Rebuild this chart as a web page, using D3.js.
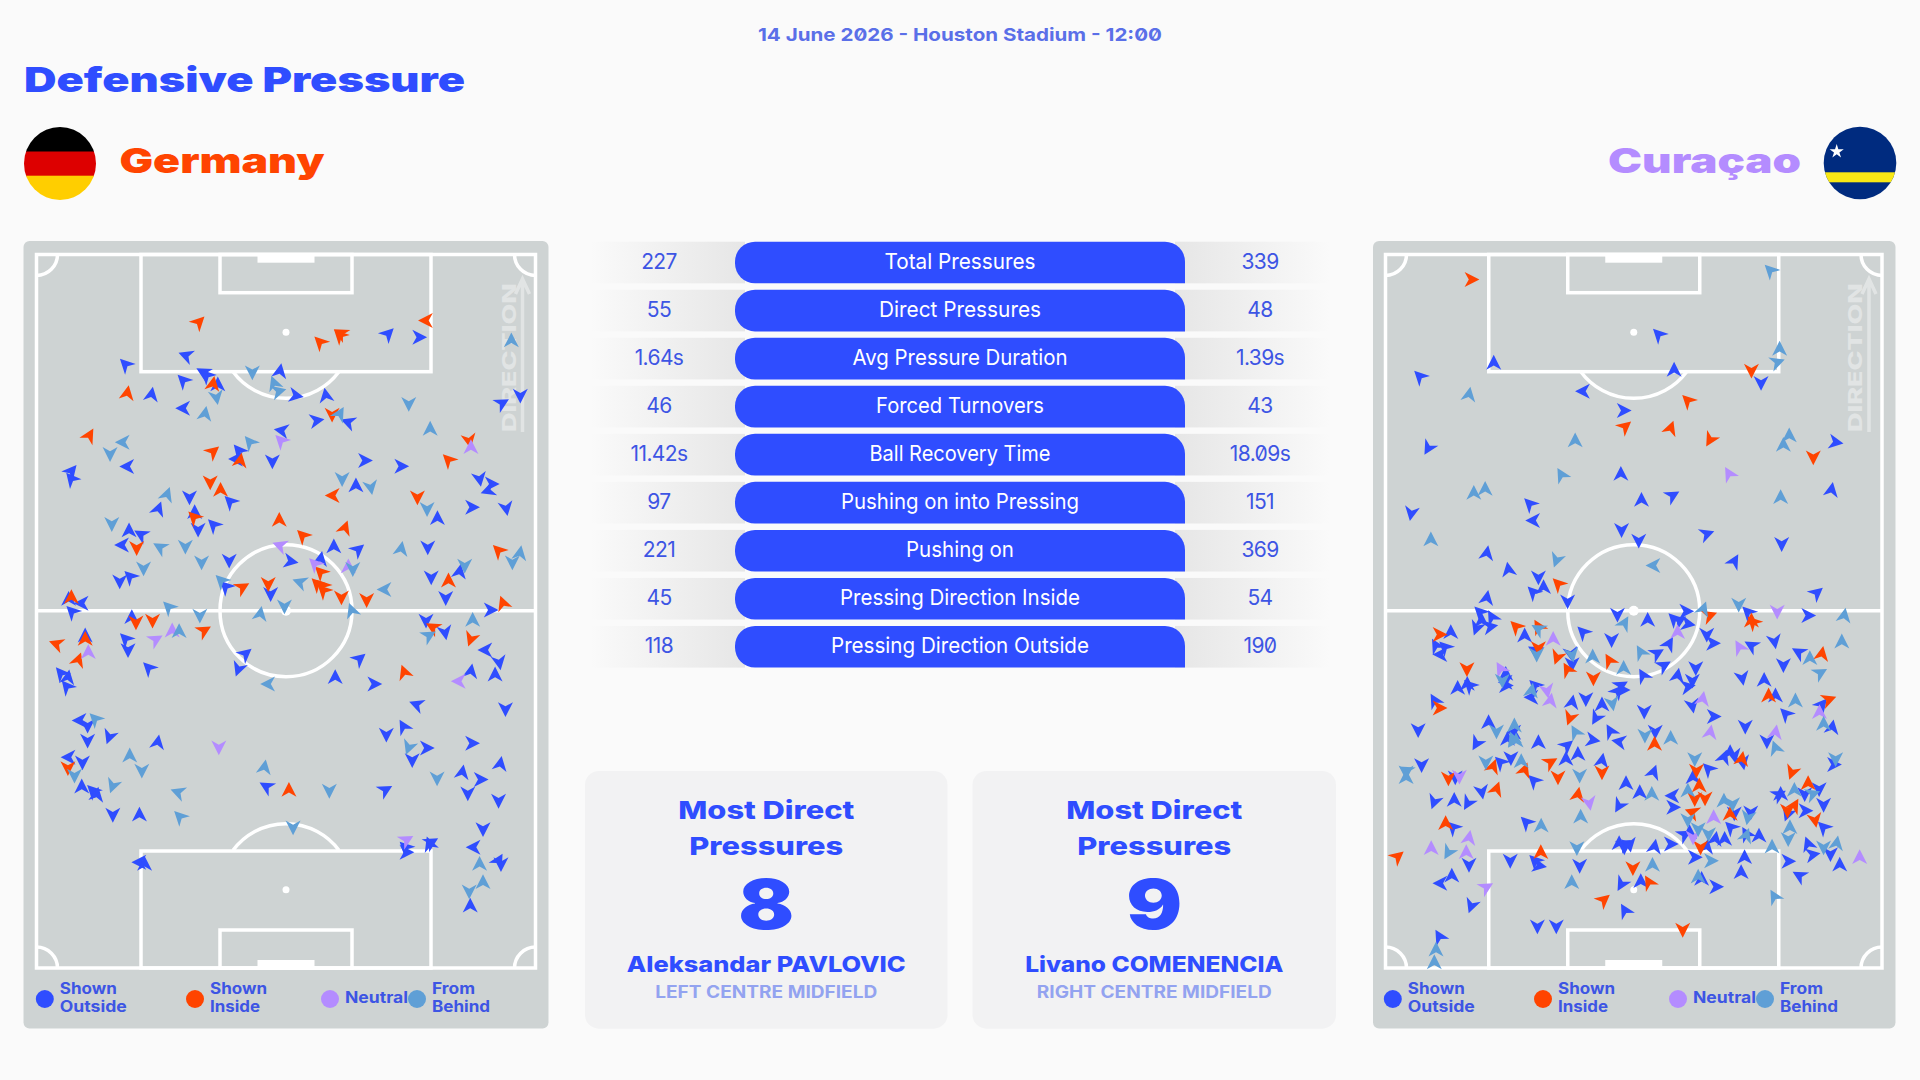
<!DOCTYPE html>
<html>
<head>
<meta charset="utf-8">
<script src="https://cdn.jsdelivr.net/npm/d3@7.9.0/dist/d3.min.js"></script>
<style>
  html, body { margin: 0; padding: 0; background: #fafafa; }
  svg { display: block; }
  text { font-feature-settings: "zero"; }
</style>
</head>
<body>
<svg id="chart" width="1920" height="1080"></svg>
<script>
// stats table
const statLabels = ['Total Pressures', 'Direct Pressures', 'Avg Pressure Duration', 'Forced Turnovers', 'Ball Recovery Time', 'Pushing on into Pressing', 'Pushing on', 'Pressing Direction Inside', 'Pressing Direction Outside'];
const germanyStats = ['227', '55', '1.64s', '46', '11.42s', '97', '221', '45', '118'];
const curacaoStats = ['339', '48', '1.39s', '43', '18.09s', '151', '369', '54', '190'];

// pressure types
const pressureTypes = ['Shown Outside', 'Shown Inside', 'Neutral', 'From Behind'];

// pressures: [across, along, direction in degrees], pitch is 1445 x 2140 units
const germanyOutside = [[1018,238,45],[1108,248,90],[433,303,290],[258,330,315],[483,353,300],[493,363,315],[425,378,315],[525,390,0],[705,350,10],[751,423,100],[838,423,350],[333,420,10],[425,461,270],[811,498,80],[903,503,290],[1348,446,60],[1401,423,180],[263,636,270],[101,650,40],[101,673,320],[710,528,280],[586,588,320],[578,613,270],[683,620,180],[951,618,90],[1056,635,90],[1283,673,170],[1318,688,90],[1308,708,250],[561,741,315],[443,728,180],[353,763,20],[925,693,0],[1161,791,0],[1261,758,90],[1360,761,170],[458,773,0],[468,825,180],[513,811,315],[268,828,0],[303,840,300],[248,871,270],[861,876,0],[931,885,50],[1133,878,180],[558,918,180],[736,920,100],[823,913,10],[271,966,315],[241,980,180],[548,996,315],[678,1018,180],[1143,968,180],[1225,951,10],[1185,1030,180],[1315,1066,90],[93,1033,0],[131,1046,270],[103,1071,315],[276,1088,0],[1128,1098,180],[1183,1133,170],[141,1143,0],[258,1153,315],[265,1186,180],[325,1240,315],[71,1256,320],[91,1268,10],[88,1296,320],[605,1198,50],[585,1243,200],[935,1213,50],[865,1268,0],[978,1288,90],[1258,1250,10],[1328,1260,0],[1300,1186,270],[1340,1223,170],[1101,1350,290],[1358,1363,180],[125,1398,270],[148,1413,180],[148,1458,180],[211,1446,200],[351,1463,10],[1013,1440,180],[1063,1416,330],[1130,1480,90],[1088,1516,180],[1261,1466,90],[93,1508,270],[133,1523,180],[1343,1528,10],[1233,1553,10],[1286,1575,90],[1249,1616,180],[1338,1638,180],[1010,1606,60],[666,1596,300],[131,1596,0],[163,1608,315],[175,1620,10],[221,1680,180],[298,1680,0],[1068,1778,315],[1071,1793,90],[1138,1768,340],[1143,1763,60],[298,1823,270],[313,1828,0],[1293,1723,180],[1266,1778,270],[1338,1818,30],[1345,1828,180],[1256,1953,0]];
const germanyInside = [[470,203,45],[1128,198,270],[821,263,315],[878,243,315],[881,236,300],[511,388,10],[263,416,10],[856,480,180],[153,543,30],[511,591,50],[590,618,10],[1193,616,315],[1253,558,170],[503,683,180],[533,706,0],[858,723,270],[1103,728,180],[456,788,315],[703,796,0],[893,820,20],[771,843,315],[290,880,180],[1338,888,315],[596,998,60],[671,988,180],[823,953,315],[813,988,315],[828,993,315],[831,1008,315],[883,1028,180],[956,1036,180],[1193,978,0],[1351,1046,340],[101,1028,0],[288,1103,180],[336,1098,180],[485,1128,60],[1148,1118,300],[1258,1153,200],[58,1168,290],[141,1153,0],[121,1216,20],[1065,1253,340],[91,1540,180],[731,1606,0]];
const germanyNeutral = [[708,558,315],[1258,578,0],[705,873,290],[806,928,315],[903,936,0],[393,1128,0],[345,1155,60],[150,1193,0],[1223,1280,270],[528,1478,180],[1071,1756,60]];
const germanyBehind = [[1375,258,0],[521,428,170],[625,353,180],[688,386,340],[701,410,75],[488,478,10],[878,478,30],[1078,448,180],[1140,523,0],[250,563,270],[213,598,180],[618,563,320],[378,720,20],[885,673,180],[968,698,170],[1131,763,180],[218,808,180],[358,878,300],[431,876,180],[1056,883,10],[1400,896,10],[1378,923,180],[478,923,180],[916,943,180],[310,941,180],[535,978,315],[763,983,290],[1008,1005,270],[1240,933,180],[383,1058,315],[473,1083,180],[718,1055,180],[648,1078,10],[913,1068,340],[413,1130,0],[1263,1096,0],[1136,1143,60],[671,1288,270],[170,1393,315],[1078,1478,200],[110,1563,180],[270,1503,0],[305,1548,180],[660,1538,10],[1160,1571,180],[848,1608,180],[410,1613,290],[221,1593,200],[415,1686,315],[743,1718,180],[1283,1828,0],[1293,1883,0],[1253,1910,180]];

const curacaoOutside = [[795,240,315],[315,325,0],[840,346,0],[1093,385,180],[100,366,315],[575,410,270],[693,468,90],[1310,563,100],[125,580,210],[685,658,0],[745,736,0],[835,723,60],[1298,706,10],[420,748,315],[430,798,270],[75,776,190],[687,826,180],[935,838,70],[737,858,180],[1153,868,180],[295,896,10],[358,945,350],[1015,920,30],[445,968,180],[460,998,0],[430,1013,315],[295,1030,10],[530,1040,180],[1255,1015,50],[1230,1083,90],[1055,1073,315],[875,1070,90],[675,1080,180],[763,1096,0],[840,1093,315],[855,1098,60],[880,1108,100],[275,1073,315],[310,1088,330],[305,1116,80],[265,1120,200],[280,1098,0],[190,1133,0],[575,1133,315],[405,1143,0],[935,1140,180],[658,1156,180],[147,1173,330],[173,1178,315],[160,1200,270],[435,1188,300],[540,1198,170],[543,1228,180],[790,1196,60],[825,1168,30],[810,1233,60],[750,1263,330],[850,1263,10],[903,1240,180],[893,1278,180],[880,1296,80],[953,1166,90],[1065,1173,300],[1132,1160,170],[1203,1193,300],[1158,1231,180],[1038,1270,170],[1102,1276,0],[893,1353,170],[955,1386,90],[753,1371,180],[685,1293,60],[675,1310,40],[690,1306,90],[630,1350,0],[613,1390,210],[583,1333,180],[543,1343,10],[435,1293,315],[425,1328,270],[1135,1323,0],[1165,1378,315],[1270,1350,40],[1300,1418,10],[1047,1416,180],[1110,1460,180],[1305,1530,90],[1262,1603,180],[1150,1618,0],[1145,1620,60],[1220,1618,180],[1275,1650,180],[1222,1668,90],[1170,1678,200],[1275,1718,315],[1230,1768,340],[1243,1800,80],[1295,1798,180],[1322,1830,0],[1172,1820,90],[1205,1863,300],[1045,1808,0],[1035,1853,0],[962,1896,90],[920,1873,0],[900,1808,90],[935,1776,10],[960,1753,10],[987,1753,0],[1005,1718,315],[1050,1738,330],[1087,1743,0],[1063,1673,180],[1015,1676,180],[895,1568,0],[940,1543,315],[985,1508,20],[1003,1493,0],[1015,1503,170],[1040,1523,170],[740,1613,0],[700,1586,0],[680,1653,210],[835,1623,270],[837,1658,90],[630,1518,10],[780,1553,20],[785,1431,180],[680,1461,280],[655,1430,330],[603,1456,100],[560,1498,0],[528,1473,50],[525,1513,0],[445,1463,0],[432,1578,315],[365,1510,180],[335,1523,315],[375,1433,270],[355,1453,0],[300,1403,0],[265,1466,210],[95,1426,180],[105,1531,180],[203,1568,180],[280,1611,170],[142,1641,200],[200,1636,0],[240,1645,210],[197,1718,315],[243,1830,180],[193,1863,0],[160,1886,270],[250,1953,200],[363,1818,180],[435,1818,315],[447,1833,100],[565,1833,180],[687,1888,210],[743,1880,0],[783,1776,10],[830,1768,90],[680,1766,0],[695,1768,60],[710,1770,170],[695,1778,180],[410,1703,315],[885,1733,0],[870,1740,60],[697,1968,330],[442,2015,180],[497,2015,180],[157,2046,330],[350,1258,0],[350,1283,270],[350,1293,90],[238,1288,0],[210,1300,0],[245,1293,315],[143,1338,330]];
const curacaoInside = [[250,75,90],[1065,348,180],[880,438,315],[697,516,50],[830,521,20],[945,555,210],[1245,608,180],[503,988,315],[943,1083,70],[1065,1098,0],[1070,1103,315],[380,1116,315],[445,1116,330],[157,1140,90],[445,1180,180],[500,1208,200],[530,1245,330],[652,1218,330],[1270,1198,10],[605,1271,180],[537,1390,200],[1115,1323,0],[1290,1335,70],[1183,1553,200],[1230,1586,0],[1190,1653,30],[1170,1668,180],[1250,1696,170],[917,1778,180],[1003,1678,0],[893,1673,290],[930,1631,180],[900,1633,180],[913,1593,0],[905,1548,180],[1037,1513,10],[630,1553,180],[783,1468,0],[480,1523,60],[502,1568,180],[405,1546,20],[313,1536,20],[183,1571,180],[323,1603,20],[175,1706,0],[35,1806,50],[452,1793,0],[720,1840,180],[767,1883,330],[560,1620,10],[635,1936,50],[865,2025,180],[237,1243,180],[157,1360,90]];
const curacaoNeutral = [[1000,658,330],[1140,1071,180],[850,1133,0],[488,1153,0],[1030,1178,330],[923,1333,10],[480,1338,10],[470,1308,170],[1263,1373,0],[1135,1433,10],[945,1433,10],[955,1688,0],[593,1645,170],[895,1748,180],[215,1566,180],[243,1750,10],[133,1781,0],[235,1793,0],[293,1898,60],[1380,1808,0],[335,1243,330]];
const curacaoBehind = [[1120,48,315],[1147,283,0],[1140,323,70],[243,420,10],[552,558,0],[1175,543,0],[1158,571,0],[512,661,330],[257,715,0],[290,703,0],[1150,728,0],[132,855,0],[498,916,200],[780,933,270],[1028,1050,180],[1335,1083,10],[925,1063,20],[695,1106,30],[445,1123,300],[440,1200,180],[543,1200,170],[603,1206,0],[693,1240,0],[743,1193,330],[1235,1211,0],[1328,1161,0],[1265,1255,60],[660,1346,170],[1193,1338,0],[1275,1408,0],[1135,1480,340],[1310,1513,180],[1190,1606,0],[1243,1618,70],[1177,1718,0],[1172,1753,180],[1275,1778,180],[1313,1766,10],[1125,1776,0],[1132,1926,330],[910,1866,0],[947,1818,90],[1050,1743,20],[1055,1688,190],[985,1638,0],[1010,1648,180],[880,1608,0],[900,1513,180],[775,1618,0],[565,1563,180],[830,1450,0],[755,1443,180],[553,1433,330],[395,1520,0],[375,1413,0],[370,1453,340],[380,1458,0],[323,1430,180],[292,1523,180],[60,1548,300],[60,1553,180],[60,1568,0],[183,1793,210],[557,1780,180],[542,1883,0],[777,1831,0],[453,1713,0],[568,1686,0],[910,1723,180],[940,1738,180],[880,1696,180],[147,2085,0],[142,2123,0],[340,1278,180],[425,1308,10]];

const typeColor = d3.scaleOrdinal().domain(pressureTypes).range(['#2f4dff', '#ff4400', '#b48cff', '#5f9fd6']);

const BLUE = '#2f4dff';
const TEXT_BLUE = '#3d55e4';
const WHITE_LINE = '#ffffff';
const svg = d3.select('#chart');
const defs = svg.append('defs');

// one text helper, width is forced with textLength so the wide look matches
function addText(parent, str, x, y, o = {}) {
  let t = parent.append('text')
    .attr('x', x).attr('y', y)
    .attr('font-family', o.family || 'Inter')
    .attr('font-size', o.size || 16)
    .attr('font-weight', o.weight || 700)
    .attr('fill', o.fill || TEXT_BLUE)
    .attr('text-anchor', o.anchor || 'start')
    .text(str);
  if (o.width) t.attr('textLength', o.width).attr('lengthAdjust', 'spacingAndGlyphs');
  return t;
}

// header
addText(svg, '14 June 2026 - Houston Stadium - 12:00', 960, 41, { size: 18, weight: 700, fill: '#5a6fe8', anchor: 'middle', width: 404 });
addText(svg, 'Defensive Pressure', 24, 92, { size: 34, weight: 900, fill: BLUE, width: 441 });
addText(svg, 'Germany', 119.5, 173, { size: 34, weight: 900, fill: '#ff4400', width: 205 });
addText(svg, 'Curaçao', 1801, 173, { size: 34, weight: 900, fill: '#b48cff', anchor: 'end', width: 193 });

// flags
defs.append('clipPath').attr('id', 'flagGer').append('ellipse').attr('cx', 60).attr('cy', 163.5).attr('rx', 36).attr('ry', 36.5);
defs.append('clipPath').attr('id', 'flagCur').append('circle').attr('cx', 1860).attr('cy', 163).attr('r', 36.3);
const ger = svg.append('g').attr('clip-path', 'url(#flagGer)');
[['#000000', 127], ['#dd0000', 151.5], ['#ffce00', 175.7]].forEach(([c, y]) => {
  ger.append('rect').attr('x', 24).attr('y', y).attr('width', 72).attr('height', 25).attr('fill', c);
});
const cur = svg.append('g').attr('clip-path', 'url(#flagCur)');
cur.append('rect').attr('x', 1820).attr('y', 125).attr('width', 80).attr('height', 76).attr('fill', '#002b7f');
cur.append('rect').attr('x', 1820).attr('y', 172.3).attr('width', 80).attr('height', 10).attr('fill', '#f9e814');
cur.append('path').attr('d', d3.symbol(d3.symbolStar, 62)()).attr('transform', 'translate(1836.7,151.5)').attr('fill', '#fff');

// arrow head, tip is up
const arrowPath = 'M0,-8L7.5,6.8L0,2.6L-7.5,6.8Z';

function drawPitch(cfg) {
  const g = svg.append('g');
  g.append('rect').attr('x', cfg.panel[0]).attr('y', 241).attr('width', cfg.panel[1] - cfg.panel[0]).attr('height', 787.5).attr('rx', 6).attr('fill', '#ced3d3');

  const x = d3.scaleLinear().domain([0, 1445]).range(cfg.range);
  const y = d3.scaleLinear().domain([0, 2140]).range([254.5, 968]);
  const midX = (cfg.range[0] + cfg.range[1]) / 2;
  const lines = g.append('g').attr('fill', 'none').attr('stroke', WHITE_LINE).attr('stroke-width', 3.5);

  // outline, halfway line, boxes top and bottom
  lines.append('rect').attr('x', cfg.range[0]).attr('y', 254.5).attr('width', cfg.range[1] - cfg.range[0]).attr('height', 713.5);
  lines.append('line').attr('x1', cfg.range[0]).attr('x2', cfg.range[1]).attr('y1', 610.7).attr('y2', 610.7);
  lines.append('rect').attr('x', midX - 145).attr('y', 254.5).attr('width', 290).attr('height', 117.2);
  lines.append('rect').attr('x', midX - 66).attr('y', 254.5).attr('width', 132).attr('height', 38.2);
  lines.append('rect').attr('x', midX - 145).attr('y', 851).attr('width', 290).attr('height', 117);
  lines.append('rect').attr('x', midX - 66).attr('y', 930).attr('width', 132).attr('height', 38);
  lines.append('circle').attr('cx', midX).attr('cy', 610.7).attr('r', 66);

  const arc = d3.arc().innerRadius(66).outerRadius(66);
  const cos = Math.acos((371.7 - 332.3) / 66);
  lines.append('path').attr('transform', `translate(${midX},332.3)`).attr('d', arc({ startAngle: Math.PI - cos, endAngle: Math.PI + cos }));
  lines.append('path').attr('transform', `translate(${midX},889.7)`).attr('d', arc({ startAngle: -cos, endAngle: cos }));

  const corner = d3.arc().innerRadius(21).outerRadius(21);
  [[cfg.range[0], 254.5, Math.PI / 2, Math.PI], [cfg.range[1], 254.5, Math.PI, 1.5 * Math.PI], [cfg.range[0], 968, 0, Math.PI / 2], [cfg.range[1], 968, -Math.PI / 2, 0]].forEach(([cx, cy, a0, a1]) => {
    lines.append('path').attr('transform', `translate(${cx},${cy})`).attr('d', corner({ startAngle: a0, endAngle: a1 }));
  });

  g.append('rect').attr('x', midX - 28.5).attr('y', 254.5).attr('width', 57).attr('height', 8.2).attr('fill', WHITE_LINE);
  g.append('rect').attr('x', midX - 28.5).attr('y', 960).attr('width', 57).attr('height', 8).attr('fill', WHITE_LINE);
  [[332.3, 3.5], [889.7, 3.5], [610.7, 5]].forEach(([cy, r]) => {
    g.append('circle').attr('cx', midX).attr('cy', cy).attr('r', r).attr('fill', WHITE_LINE);
  });

  // direction of play
  const dirX = cfg.range[1] - 13;
  const dir = g.append('g').attr('opacity', 0.4);
  dir.append('path').attr('d', `M${dirX},432V280M${dirX - 7},294L${dirX},279L${dirX + 7},294`).attr('fill', 'none').attr('stroke', '#fff').attr('stroke-width', 3.5);
  addText(dir, 'DIRECTION', 0, 0, { size: 19, weight: 800, fill: '#fff', width: 149 })
    .attr('transform', `translate(${dirX - 7},432) rotate(-90)`);

  // pressures
  pressureTypes.forEach((type, i) => {
    g.append('g').selectAll('path').data(cfg.series[i]).join('path')
      .attr('d', arrowPath)
      .attr('transform', (d) => `translate(${x(d[0])},${y(d[1])}) rotate(${d[2]})`)
      .attr('fill', typeColor(type));
  });

  // legend
  const lg = g.append('g').attr('transform', `translate(${cfg.legendDx},0)`);
  const legendX = d3.scaleOrdinal().domain(pressureTypes).range([44.8, 195, 330, 417]);
  const legendWidths = [[57, 67], [57, 50], [63], [43, 58]];
  pressureTypes.forEach((type, i) => {
    lg.append('circle').attr('cx', legendX(type)).attr('cy', 999).attr('r', 9).attr('fill', typeColor(type));
    const words = type.split(' ');
    words.forEach((w, k) => {
      const baseY = words.length === 1 ? 1002.5 : 993.5 + k * 18;
      addText(lg, w, legendX(type) + 15, baseY, { size: 15.5, weight: 700, width: legendWidths[i][k] });
    });
  });
}

drawPitch({ panel: [23.5, 548.5], range: [36.5, 535.5], legendDx: 0, series: [germanyOutside, germanyInside, germanyNeutral, germanyBehind] });
drawPitch({ panel: [1373, 1895.5], range: [1385.5, 1882], legendDx: 1348, series: [curacaoOutside, curacaoInside, curacaoNeutral, curacaoBehind] });

// stats rows
const rowY = d3.scaleBand().domain(statLabels).range([241.7, 667.6]).paddingInner(0.133).paddingOuter(0);
const labelWidths = [151, 162, 215, 168, 181, 238, 108, 240, 258];
const pillX0 = 735, pillX1 = 1185, pillR = 20;

const gradL = defs.append('linearGradient').attr('id', 'rowL');
gradL.append('stop').attr('offset', 0).attr('stop-color', '#e6e6e6').attr('stop-opacity', 0);
gradL.append('stop').attr('offset', 1).attr('stop-color', '#e6e6e6');
const gradR = defs.append('linearGradient').attr('id', 'rowR');
gradR.append('stop').attr('offset', 0).attr('stop-color', '#e6e6e6');
gradR.append('stop').attr('offset', 1).attr('stop-color', '#e6e6e6').attr('stop-opacity', 0);

const table = svg.append('g');
statLabels.forEach((label, i) => {
  const y0 = rowY(label), h = rowY.bandwidth(), cy = y0 + h / 2;
  table.append('rect').attr('x', 590).attr('y', y0).attr('width', pillX0 - 590 + 10).attr('height', h).attr('fill', 'url(#rowL)');
  table.append('rect').attr('x', pillX1 - 10).attr('y', y0).attr('width', 1330 - pillX1 + 10).attr('height', h).attr('fill', 'url(#rowR)');

  // square only at bottom right
  const p = d3.path();
  p.moveTo(pillX0 + pillR, y0);
  p.lineTo(pillX1 - pillR, y0);
  p.arcTo(pillX1, y0, pillX1, y0 + pillR, pillR);
  p.lineTo(pillX1, y0 + h);
  p.lineTo(pillX0 + pillR, y0 + h);
  p.arcTo(pillX0, y0 + h, pillX0, y0 + h - pillR, pillR);
  p.lineTo(pillX0, y0 + pillR);
  p.arcTo(pillX0, y0, pillX0 + pillR, y0, pillR);
  p.closePath();
  table.append('path').attr('d', p.toString()).attr('fill', BLUE);

  addText(table, label, 960, cy + 6.6, { size: 22, weight: 400, fill: '#fff', anchor: 'middle', width: labelWidths[i] });
  addText(table, germanyStats[i], 659, cy + 6.6, { size: 21, weight: 400, anchor: 'middle' }).style('letter-spacing', '-0.6px');
  addText(table, curacaoStats[i], 1260, cy + 6.6, { size: 21, weight: 400, anchor: 'middle' }).style('letter-spacing', '-0.6px');
});

// player cards
const cardNames = ['Aleksandar PAVLOVIC', 'Livano COMENENCIA'];
const cardPositions = ['LEFT CENTRE MIDFIELD', 'RIGHT CENTRE MIDFIELD'];
const cardValues = ['8', '9'];
const cardX = [[585, 947.5], [972.5, 1336]];
const nameWidths = [279, 258];
const posWidths = [222, 235];

cardNames.forEach((name, i) => {
  const [x0, x1] = cardX[i];
  const cx = (x0 + x1) / 2;
  svg.append('rect').attr('x', x0).attr('y', 771).attr('width', x1 - x0).attr('height', 257.7).attr('rx', 14).attr('fill', '#f2f2f3');
  addText(svg, 'Most Direct', cx, 819, { size: 25, weight: 800, fill: BLUE, anchor: 'middle', width: 176 });
  addText(svg, 'Pressures', cx, 855, { size: 25, weight: 800, fill: BLUE, anchor: 'middle', width: 154 });
  addText(svg, cardValues[i], cx, 929, { size: 69, weight: 900, fill: BLUE, anchor: 'middle', width: 56 });
  addText(svg, name, cx, 972, { size: 22, weight: 800, fill: BLUE, anchor: 'middle', width: nameWidths[i] });
  addText(svg, cardPositions[i], cx, 998, { size: 17, weight: 700, fill: '#93a3f0', anchor: 'middle', width: posWidths[i] });
});
</script>
</body>
</html>
